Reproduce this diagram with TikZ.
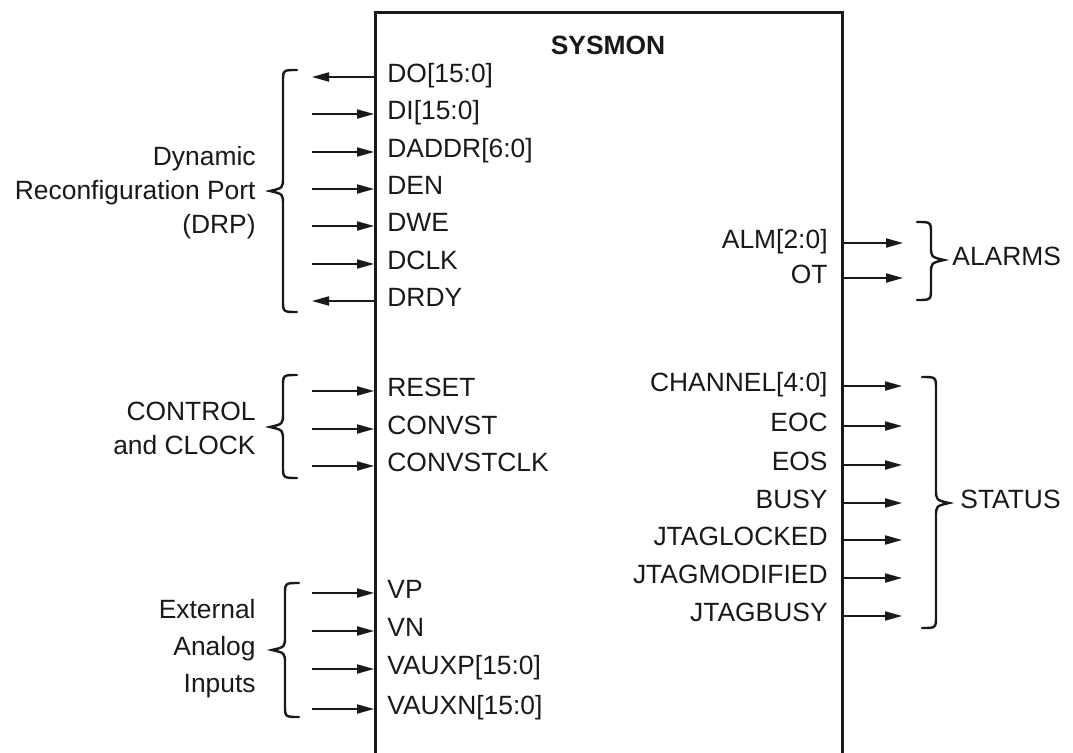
\documentclass[tikz,border=0pt]{standalone}
\usepackage{fontspec}
\setmainfont{Liberation Sans}
\usetikzlibrary{arrows.meta}
\newcommand\mybraceL[4]{% x, ytop, ytip, ybottom
  \draw[brc] (#1+14,#2) .. controls (#1,#2) .. (#1,#2+12) -- (#1,#3-14)
    .. controls (#1,#3-3) .. (#1-13,#3) .. controls (#1,#3+3) .. (#1,#3+14)
    -- (#1,#4-12) .. controls (#1,#4) .. (#1+14,#4);}
\newcommand\mybraceR[4]{% x, ytop, ytip, ybottom
  \draw[brc] (#1-14,#2) .. controls (#1,#2) .. (#1,#2+12) -- (#1,#3-14)
    .. controls (#1,#3-3) .. (#1+13,#3) .. controls (#1,#3+3) .. (#1,#3+14)
    -- (#1,#4-12) .. controls (#1,#4) .. (#1-14,#4);}
\begin{document}
\begin{tikzpicture}[x=0.5pt,y=-0.5pt,
  every node/.style={font=\fontsize{13.2}{17}\selectfont, inner sep=0pt, text=black!90},
  sig/.style={line width=0.7pt, draw=black!90, -{Triangle[length=8.5pt,width=4.6pt]}},
  brc/.style={line width=1.2pt, draw=black!90, line cap=round},
  lport/.style={anchor=mid west},
  rport/.style={anchor=mid east},
  grp/.style={align=right, anchor=east},
  ]
\useasboundingbox (0,0) rectangle (1073,753);
\node[draw=black!90, line width=1.5pt, anchor=north west, minimum width=233.5pt,
      minimum height=400pt] (box) at (374,11) {};
\node[font=\fontsize{13.2}{17}\selectfont\bfseries] (title) at (608,45) {SYSMON};

% left ports
\node[lport] (pDO) at (387,77) {DO[15:0]};      \coordinate (eDO) at (312,77);
\node[lport] (pDI) at (387,114) {DI[15:0]};     \coordinate (eDI) at (312,114);
\node[lport] (pDADDR) at (387,152) {DADDR[6:0]};\coordinate (eDADDR) at (312,152);
\node[lport] (pDEN) at (387,189) {DEN};         \coordinate (eDEN) at (312,189);
\node[lport] (pDWE) at (387,226) {DWE};         \coordinate (eDWE) at (312,226);
\node[lport] (pDCLK) at (387,264) {DCLK};       \coordinate (eDCLK) at (312,264);
\node[lport] (pDRDY) at (387,301) {DRDY};       \coordinate (eDRDY) at (312,301);
\node[lport] (pRESET) at (387,391) {RESET};     \coordinate (eRESET) at (312,391);
\node[lport] (pCONVST) at (387,429) {CONVST};   \coordinate (eCONVST) at (312,429);
\node[lport] (pCONVSTCLK) at (387,466) {CONVSTCLK}; \coordinate (eCONVSTCLK) at (312,466);
\node[lport] (pVP) at (387,593) {VP};           \coordinate (eVP) at (312,593);
\node[lport] (pVN) at (387,631) {VN};           \coordinate (eVN) at (312,631);
\node[lport] (pVAUXP) at (387,669) {VAUXP[15:0]}; \coordinate (eVAUXP) at (312,669);
\node[lport] (pVAUXN) at (387,709) {VAUXN[15:0]}; \coordinate (eVAUXN) at (312,709);

\draw[sig] (box.west |- eDO) -- (eDO);
\draw[sig] (eDI) -- (box.west |- eDI);
\draw[sig] (eDADDR) -- (box.west |- eDADDR);
\draw[sig] (eDEN) -- (box.west |- eDEN);
\draw[sig] (eDWE) -- (box.west |- eDWE);
\draw[sig] (eDCLK) -- (box.west |- eDCLK);
\draw[sig] (box.west |- eDRDY) -- (eDRDY);
\draw[sig] (eRESET) -- (box.west |- eRESET);
\draw[sig] (eCONVST) -- (box.west |- eCONVST);
\draw[sig] (eCONVSTCLK) -- (box.west |- eCONVSTCLK);
\draw[sig] (eVP) -- (box.west |- eVP);
\draw[sig] (eVN) -- (box.west |- eVN);
\draw[sig] (eVAUXP) -- (box.west |- eVAUXP);
\draw[sig] (eVAUXN) -- (box.west |- eVAUXN);

% right ports
\node[rport] (pALM) at (828,243) {ALM[2:0]};   \coordinate (eALM) at (903,243);
\node[rport] (pOT) at (828,278) {OT};          \coordinate (eOT) at (903,278);
\node[rport] (pCH) at (828,386) {CHANNEL[4:0]};\coordinate (eCH) at (902,386);
\node[rport] (pEOC) at (828,426) {EOC};        \coordinate (eEOC) at (902,426);
\node[rport] (pEOS) at (828,465) {EOS};        \coordinate (eEOS) at (902,465);
\node[rport] (pBUSY) at (828,503) {BUSY};      \coordinate (eBUSY) at (902,503);
\node[rport] (pJL) at (828,540) {JTAGLOCKED};  \coordinate (eJL) at (902,540);
\node[rport] (pJM) at (828,578) {JTAGMODIFIED};\coordinate (eJM) at (902,578);
\node[rport] (pJB) at (828,616) {JTAGBUSY};    \coordinate (eJB) at (902,616);

\draw[sig] (box.east |- eALM) -- (eALM);
\draw[sig] (box.east |- eOT) -- (eOT);
\draw[sig] (box.east |- eCH) -- (eCH);
\draw[sig] (box.east |- eEOC) -- (eEOC);
\draw[sig] (box.east |- eEOS) -- (eEOS);
\draw[sig] (box.east |- eBUSY) -- (eBUSY);
\draw[sig] (box.east |- eJL) -- (eJL);
\draw[sig] (box.east |- eJM) -- (eJM);
\draw[sig] (box.east |- eJB) -- (eJB);

% braces
\mybraceL{283}{70}{191}{312}
\mybraceL{283}{375}{427}{478}
\mybraceL{285}{583}{650}{717}
\mybraceR{931}{222}{260}{300}
\mybraceR{936}{377}{503}{628}

% group labels
\node[grp] (gDRP) at (256,193) {Dynamic\\Reconfiguration Port\\(DRP)};
\node[grp] (gCTL) at (256,428) {CONTROL\\and CLOCK};
\node[grp, font=\fontsize{13.2}{18.5}\selectfont] (gEXT) at (256,649) {External\\Analog\\Inputs};
\node[anchor=mid west] (gAL) at (952,260) {ALARMS};
\node[anchor=mid west] (gST) at (960,503) {STATUS};
\end{tikzpicture}
\end{document}
